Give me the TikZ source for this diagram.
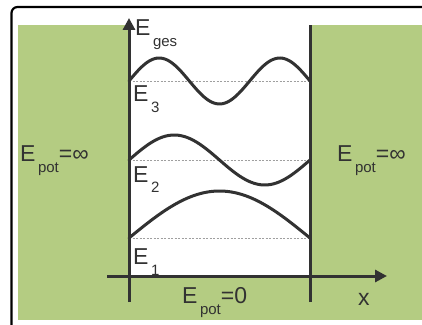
\documentclass[tikz,border=0pt]{standalone}
\usepackage{fontspec}
\setmainfont{Liberation Sans}
\usetikzlibrary{arrows.meta}
\definecolor{wallgreen}{RGB}{180,204,130}
\definecolor{ink}{RGB}{50,50,50}
\newcommand{\lowsub}[1]{\raisebox{-11pt}{\fontsize{15}{15}\selectfont\,#1}}
\tikzset{
  axis/.style={-{Triangle[length=12pt,width=12pt]}, line width=3pt, draw=ink},
  wall/.style={line width=3pt, draw=ink},
  level/.style={draw=gray!75, line width=0.8pt, dash pattern=on 2pt off 1.5pt},
  wave/.style={line width=3pt, draw=ink, line cap=round, smooth},
  lbl/.style={anchor=base west, inner sep=0pt, text=ink, font=\fontsize{23}{26}\selectfont},
}

\begin{document}
\begin{tikzpicture}[x=1pt,y=1pt]
  \useasboundingbox (0,0) rectangle (422,324);
  \clip (0,0) rectangle (422,324);
  % frame and potential regions
  \draw[line width=2.2pt, rounded corners=6pt] (11.5,-20) rectangle (460,317);
  \fill[wallgreen] (18,4) rectangle (440,299);
  \fill[white] (129,48) rectangle (310,299);

  % energy levels
  \foreach \lv in {86,164,243}
    \draw[level] (129,\lv) -- (310,\lv);

  % wave functions
  \draw[wave, domain=0:1, samples=40, variable=\t] plot ({129+181*\t},{86+47*sin(180*\t)});
  \draw[wave, domain=0:1, samples=60, variable=\t] plot ({129+181*\t},{164+25*sin(360*\t)});
  \draw[wave, domain=0:1, samples=80, variable=\t] plot ({129+181*\t},{243+23*sin(540*\t)});

  % axes and wall
  \coordinate (ybot) at (129,22);
  \coordinate (ytop) at (129,306);
  \coordinate (xleft) at (107,48);
  \coordinate (xright) at (387,48);
  \coordinate (wbot) at (310,22);
  \coordinate (wtop) at (310,299);
  \draw[axis] (ybot) -- (ytop);
  \draw[axis] (xleft) -- (xright);
  \draw[wall] (wbot) -- (wtop);

  % labels
  \node[lbl] (eges) at (135,288) {E\lowsub{ges}};
  \node[lbl] (e3) at (133,222) {E\lowsub{3}};
  \node[lbl] (e2) at (133,142) {E\lowsub{2}};
  \node[lbl] (e1) at (133,60) {E\lowsub{1}};
  \node[lbl] (potleft) at (20,162) {E\lowsub{pot}=∞};
  \node[lbl] (potright) at (337,162) {E\lowsub{pot}=∞};
  \node[lbl] (potzero) at (182,21) {E\lowsub{pot}=0};
  \node[lbl] (xlbl) at (358,19) {x};
\end{tikzpicture}
\end{document}
